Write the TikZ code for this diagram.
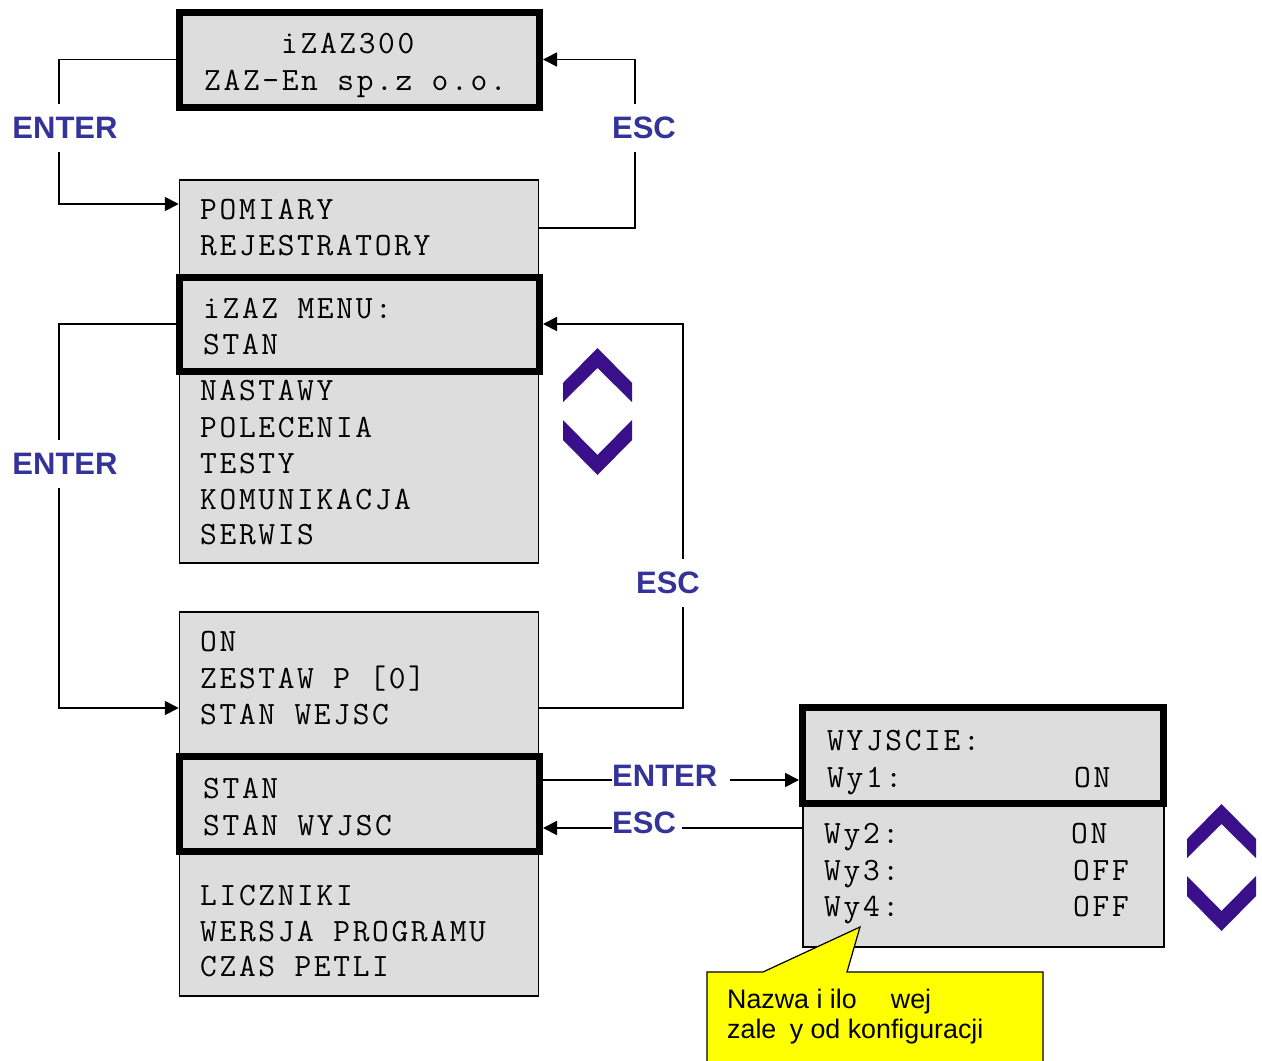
\documentclass[tikz,border=0pt]{standalone}
\usepackage{fontspec}
\usetikzlibrary{arrows.meta}
\newfontfamily\lcdfont[LetterSpace=8.2]{Latin Modern Mono}
\newfontfamily\arialfont{Liberation Sans}
\definecolor{boxgray}{RGB}{221,221,221}
\definecolor{keyblue}{RGB}{51,51,153}
\definecolor{chevcol}{RGB}{58,16,138}
\definecolor{noteyellow}{RGB}{255,255,0}
\tikzset{
  listbox/.style={draw=black, line width=1.5pt, fill=boxgray, inner sep=0pt},
  selbox/.style={draw=black, line width=7pt, fill=boxgray, inner sep=0pt},
  lcd/.style={anchor=base west, inner sep=0pt, font=\lcdfont\fontsize{32.5}{32.5}\selectfont},
  conn/.style={line width=1.8pt, -{Triangle[length=14pt,width=14pt]}},
  keyv/.style={fill=white, inner xsep=6pt, inner ysep=13pt, text=keyblue, font=\arialfont\bfseries\fontsize{31}{31}\selectfont},
  keyh/.style={fill=white, inner xsep=0pt, inner ysep=3pt, anchor=west, text=keyblue, font=\arialfont\bfseries\fontsize{31}{31}\selectfont},
  chev/.style={fill=chevcol},
  notebox/.style={draw=black, line width=1.2pt, fill=noteyellow},
  notetext/.style={anchor=base west, inner sep=0pt, font=\arialfont\fontsize{26.8}{30}\selectfont}
}
\begin{document}
\begin{tikzpicture}[x=1pt,y=-1pt]
\useasboundingbox (0,0) rectangle (1262,1061);

% boxes
\node[selbox, minimum width=360pt, minimum height=95pt] (top) at (359.5,59.5) {};
\node[listbox, minimum width=359pt, minimum height=383pt] (menu) at (359,371.5) {};
\node[selbox, minimum width=360pt, minimum height=94pt] (menusel) at (359.5,324) {};
\node[listbox, minimum width=359pt, minimum height=384pt] (lower) at (359,804) {};
\node[selbox, minimum width=360pt, minimum height=95pt] (lowersel) at (359.5,804) {};
\node[listbox, minimum width=361pt, minimum height=242pt] (right) at (983.5,826) {};
\node[selbox, minimum width=361pt, minimum height=96pt] (rightsel) at (983,755.5) {};

% texts
\node[lcd] (t1) at (281,53) {iZAZ300};
\node[lcd] (t2) at (204,90) {ZAZ-En sp.z o.o.};
\node[lcd] (t3) at (200,219) {POMIARY};
\node[lcd] (t4) at (200,255) {REJESTRATORY};
\node[lcd] (t5) at (203,318) {iZAZ MENU:};
\node[lcd] (t6) at (203,354) {STAN};
\node[lcd] (t7) at (200,400) {NASTAWY};
\node[lcd] (t8) at (200,437) {POLECENIA};
\node[lcd] (t9) at (200,473) {TESTY};
\node[lcd] (t10) at (200,509) {KOMUNIKACJA};
\node[lcd] (t11) at (200,544) {SERWIS};
\node[lcd] (t12) at (200,651) {ON};
\node[lcd] (t13) at (200,688) {ZESTAW P [0]};
\node[lcd] (t14) at (200,724) {STAN WEJSC};
\node[lcd] (t15) at (203,798) {STAN};
\node[lcd] (t16) at (203,835) {STAN WYJSC};
\node[lcd] (t17) at (200,905) {LICZNIKI};
\node[lcd] (t18) at (200,941) {WERSJA PROGRAMU};
\node[lcd] (t19) at (200,976) {CZAS PETLI};
\node[lcd] (r1) at (827,750) {WYJSCIE:};
\node[lcd] (r2) at (827,787) {Wy1:};
\node[lcd] (r2v) at (1074,787) {ON};
\node[lcd] (r3) at (824,843) {Wy2:};
\node[lcd] (r3v) at (1071,843) {ON};
\node[lcd] (r4) at (824,880) {Wy3:};
\node[lcd] (r4v) at (1073,880) {OFF};
\node[lcd] (r5) at (824,916) {Wy4:};
\node[lcd] (r5v) at (1073,916) {OFF};

% connectors
\draw[conn] (top.west) -- (59,59.5) -- (59,204) -- (menu.west |- 0,204);
\draw[conn] (menu.east |- 0,228) -- (635,228) -- (635,59.5) -- (top.east);
\draw[conn] (menusel.west) -- (59,324) -- (59,708) -- (lower.west |- 0,708);
\draw[conn] (lower.east |- 0,708) -- (683,708) -- (683,324) -- (menusel.east);
\draw[conn] (lowersel.east |- 0,780) -- (rightsel.west |- 0,780);
\draw[conn] (right.west |- 0,828) -- (lowersel.east |- 0,828);

% key labels
\node[keyv] (k1) at (65,128) {ENTER};
\node[keyv] (k2) at (644,128) {ESC};
\node[keyv] (k3) at (65,464) {ENTER};
\node[keyv] (k4) at (668,583) {ESC};
\node[keyh] (k5) at (612,776) {ENTER\kern13pt};
\node[keyh] (k6) at (612,823) {ESC\kern6pt};

% chevrons
\fill[chev] (563,402) -- (563,383) -- (597.5,348) -- (632,383) -- (632,402) -- (597.5,368) -- cycle;
\fill[chev] (563,420) -- (597.5,455) -- (632,420) -- (632,440) -- (597.5,475) -- (563,440) -- cycle;
\fill[chev] (1187,858) -- (1187,839) -- (1221.5,804) -- (1256,839) -- (1256,858) -- (1221.5,824) -- cycle;
\fill[chev] (1187,876) -- (1221.5,911) -- (1256,876) -- (1256,896) -- (1221.5,931) -- (1187,896) -- cycle;

% callout
\draw[notebox] (707,1066) -- (707,972) -- (763,972) -- (860,927) -- (847,972) -- (1043,972) -- (1043,1066);
\node[notetext] (n1) at (727,1008) {Nazwa i ilo\hphantom{ść} wej};
\node[notetext] (n2) at (727,1038) {zale\hphantom{ż}y od konfiguracji};
\end{tikzpicture}
\end{document}
